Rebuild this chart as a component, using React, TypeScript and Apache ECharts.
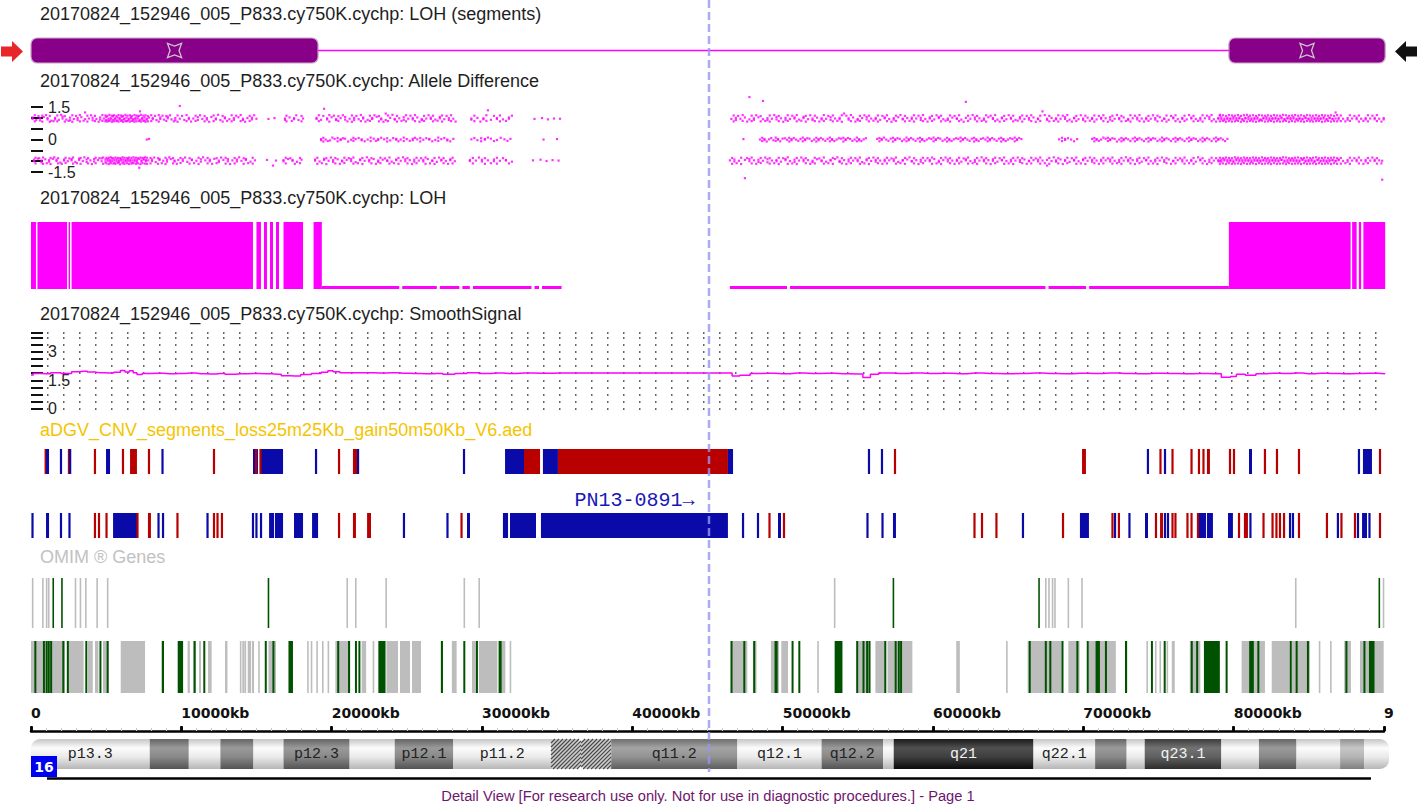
import React, { useEffect, useRef } from "react";
import * as echarts from "echarts";

// ---------- data ----------
const CHROM_MB = 90.354;
const RULER_MAX_MB = 90;
const CURSOR_MB = 45.11;
const SAMPLE = "20170824_152946_005_P833.cy750K.cychp";
const TRACK_TITLES = [
  `${SAMPLE}: LOH (segments)`,
  `${SAMPLE}: Allele Difference`,
  `${SAMPLE}: LOH`,
  `${SAMPLE}: SmoothSignal`,
  "aDGV_CNV_segments_loss25m25Kb_gain50m50Kb_V6.aed",
  "OMIM \u00ae Genes",
];
const FOOTER = "Detail View [For research use only. Not for use in diagnostic procedures.] - Page 1";
const CHROM_NAME = "16";

// LOH segments (Mb)
const LOH_SEGMENTS = [[0, 19.1], [79.7, 90.1]];

// Allele difference: [position Mb, value, value...]
const AD_UPPER_LEFT = [
  [0.1,0.95,1.02],[0.35,0.9],[0.6,0.98,0.88],[0.85,1.04],[1.1,0.93,0.99],[1.35,0.87],[1.6,1.0,0.94],[1.85,0.91],[2.1,0.97,1.06],[2.35,0.92],[2.6,1.01,0.89],[2.85,0.95],[3.1,0.9,0.99],[3.35,1.03],[3.6,0.94,1.25],[3.85,0.97],[4.1,0.89,1.0],[4.35,0.95],[4.6,1.02,0.92],[4.85,0.97],
  [5.0,0.9,1.04],[5.15,0.96,0.87],[5.3,1.0,0.93],[5.45,0.91,1.07],[5.6,0.98,0.94],[5.75,0.88,1.02],[5.9,0.95,0.99],[6.05,1.05,0.9],[6.2,0.93,0.97],[6.35,1.01,0.86],[6.5,0.96,0.92],[6.65,1.03,0.98],[6.8,0.89,0.95],[6.95,1.0,0.93],[7.1,0.97,1.06],[7.25,0.91,1.3],[7.4,0.99,0.94],[7.55,0.88,1.02],[7.7,0.96,0.92],[7.85,1.01],
  [8.1,0.94,0.99],[8.35,0.9],[8.6,1.02,0.95],[8.85,0.92],[9.1,0.98,1.05],[9.35,0.93],[9.6,0.89,0.99],[9.9,1.55,0.96],[10.2,0.91],[10.5,1.0,0.94],[10.8,0.97],[11.1,0.9,1.03],[11.4,0.95],[11.7,0.99,0.92],[12.0,1.04],[12.3,0.93,0.97],[12.6,0.9],[12.9,0.98,1.02],[13.2,0.94],[13.5,0.91,0.99],[13.8,1.03],[14.1,0.96,0.9],[14.4,0.99],[14.7,0.93,1.01],[15.0,0.96],
  [15.8,0.95],[16.2,0.99],
  [16.9,0.97,0.91],[17.2,1.02],[17.5,0.94,0.99],[17.8,0.9],[18.1,0.97],
  [19.0,0.95,1.0],[19.3,0.91],[19.5,1.42],[19.7,0.98,0.93],[20.0,1.03],[20.3,0.94,0.9],[20.6,0.99],[20.9,0.92,1.04],[21.2,0.96],[21.5,1.0,0.9],[21.8,0.94],[22.1,0.97,1.02],[22.4,0.91],[22.7,0.99,0.95],[23.0,1.05],[23.3,0.93,0.97],[23.6,0.9,1.2],[23.9,1.0],[24.2,0.95,0.92],[24.5,0.98],[24.8,0.91,1.03],[25.1,0.96],[25.4,0.99,0.93],[25.7,1.02],[26.0,0.94,0.9],[26.3,0.97],[26.6,1.01,0.95],[26.9,0.92],[27.2,0.98,1.04],[27.5,0.94],[27.8,0.9,0.99],[28.1,0.96],
  [29.3,0.97,0.92],[29.7,1.0],[30.1,0.94,0.98],[30.4,1.35],[30.6,0.91],[31.0,0.99,0.95],[31.4,0.93],[31.8,1.02,0.96],
  [33.5,0.95],[34.0,0.99],[34.4,0.93],[34.8,0.97],[35.2,0.96],
];
const AD_UPPER_LEFT_2 = [
  [0.25,0.84,1.12],[0.5,1.08],[0.75,0.83,1.1],[1.0,1.13],[1.25,0.82,1.09],[1.5,0.85],[1.75,1.11,0.84],[2.0,1.14],[2.25,0.83,1.08],[2.5,0.86],[2.75,1.12,0.82],[3.0,1.09],[3.25,0.84,1.13],[3.5,0.87],[3.75,1.1,0.83],[4.0,1.12],[4.25,0.85,1.09],[4.5,0.82],[4.75,1.13,0.86],
  [4.95,0.84,1.11],[5.08,1.09,0.83],[5.22,0.86,1.14],[5.38,1.1,0.82],[5.52,0.84,1.12],[5.68,1.08,0.85],[5.82,0.83,1.13],[5.98,1.11,0.86],[6.12,0.82,1.09],[6.28,1.14,0.84],[6.42,0.85,1.1],[6.58,1.12,0.83],[6.72,0.86,1.08],[6.88,1.13,0.82],[7.02,0.84,1.11],[7.18,1.09,0.85],[7.32,0.83,1.14],[7.48,1.1,0.86],[7.62,0.82,1.12],[7.78,1.08,0.84],
  [8.0,0.85,1.12],[8.25,1.09],[8.5,0.83,1.13],[8.75,1.1],[9.0,0.86,1.08],[9.25,1.12],[9.5,0.84],[9.75,1.11,0.82],[10.05,1.09],[10.35,0.85,1.13],[10.65,0.83],[10.95,1.1,0.86],[11.25,1.12],[11.55,0.84,1.08],[11.85,0.82],[12.15,1.11,0.85],[12.45,1.14],[12.75,0.83,1.09],[13.05,0.86],[13.35,1.12,0.84],[13.65,1.1],[13.95,0.85,1.13],[14.25,0.82],[14.55,1.09,0.86],[14.85,1.12],
  [17.0,1.1,0.84],[17.35,0.86],[17.65,1.12],[18.0,0.84,1.09],
  [19.15,0.85,1.12],[19.45,1.09],[19.85,0.83,1.13],[20.15,1.1],[20.45,0.86,1.08],[20.75,1.12],[21.05,0.84],[21.35,1.11,0.82],[21.65,1.09],[21.95,0.85,1.13],[22.25,0.83],[22.55,1.1,0.86],[22.85,1.12],[23.15,0.84,1.08],[23.45,0.82],[23.75,1.11,0.85],[24.05,1.14],[24.35,0.83,1.09],[24.65,0.86],[24.95,1.12,0.84],[25.25,1.1],[25.55,0.85,1.13],[25.85,0.82],[26.15,1.09,0.86],[26.45,1.12],[26.75,0.84,1.1],[27.05,0.87],[27.35,1.11,0.83],[27.65,1.09],[27.95,0.85,1.12],[28.25,0.83],
  [29.5,1.1,0.85],[29.9,0.83],[30.3,1.12,0.86],[30.8,1.09],[31.2,0.84,1.11],[31.6,0.86],[32.0,1.1],
];
const AD_LOWER_LEFT = [
  [0.2,-0.93,-1.0],[0.45,-0.88],[0.7,-0.97,-1.05],[0.95,-0.91],[1.2,-1.02,-0.95],[1.45,-0.89],[1.7,-0.99,-0.93],[1.95,-1.06],[2.2,-0.92,-0.97],[2.45,-1.0],[2.7,-0.9,-0.96],[2.95,-1.03],[3.2,-0.94,-0.88],[3.45,-0.99],[3.7,-1.04,-0.92],[3.95,-0.96],[4.2,-0.9,-1.01],[4.45,-0.95],[4.7,-1.0,-0.87],
  [4.95,-0.93,-1.05],[5.1,-0.98,-0.9],[5.25,-1.02,-0.95],[5.4,-0.88,-0.99],[5.55,-0.94,-1.06],[5.7,-1.0,-0.91],[5.85,-0.96,-1.03],[6.0,-0.9,-0.97],[6.15,-1.04,-0.93],[6.3,-0.95,-1.0],[6.45,-0.89,-0.98],[6.6,-1.01,-0.94],[6.75,-0.96,-1.07],[6.9,-0.92,-0.99],[7.05,-1.03,-0.95],[7.2,-0.9,-1.3],[7.35,-0.97,-1.01],[7.5,-0.93,-0.88],[7.65,-1.0,-0.95],[7.8,-0.96],
  [8.05,-0.99,-0.92],[8.3,-1.04],[8.55,-0.94,-0.9],[8.8,-0.98],[9.05,-1.02,-0.93],[9.3,-0.9],[9.55,-0.97,-1.01],[9.8,-0.94],[10.1,-0.99,-0.91],[10.4,-1.03],[10.7,-0.95,-0.92],[11.0,-0.98],[11.3,-0.91,-1.02],[11.6,-0.96],[11.9,-1.0,-0.93],[12.2,-0.89],[12.5,-0.97,-1.04],[12.8,-0.94],[13.1,-1.0,-0.9],[13.4,-0.96],[13.7,-0.92,-1.01],[14.0,-0.98],[14.3,-0.94,-0.9],[14.6,-1.02],[14.9,-0.96],
  [15.7,-0.94],[16.1,-1.2],[16.3,-0.97],
  [16.8,-0.95,-1.0],[17.1,-0.9],[17.4,-0.98,-0.94],[17.7,-1.03],[18.0,-0.93],
  [18.9,-0.97,-0.92],[19.2,-1.01],[19.5,-0.94,-0.89],[19.8,-0.98],[20.1,-1.03,-0.95],[20.4,-0.91],[20.7,-0.97,-1.01],[21.0,-0.94],[21.3,-0.9,-0.99],[21.6,-1.04],[21.9,-0.95,-0.92],[22.2,-0.98],[22.5,-1.01,-0.94],[22.8,-0.9],[23.1,-0.97,-1.03],[23.4,-0.93],[23.7,-0.99,-0.96],[24.0,-1.02],[24.3,-0.92,-0.95],[24.6,-0.98],[24.9,-1.0,-0.91],[25.2,-0.95],[25.5,-0.93,-1.02],[25.8,-0.97],[26.1,-1.01,-0.94],[26.4,-0.9],[26.7,-0.96,-0.99],[27.0,-1.03],[27.3,-0.93,-0.97],[27.6,-0.99],[27.9,-0.95,-0.91],[28.2,-1.0],
  [29.2,-0.94,-0.99],[29.6,-0.97],[30.0,-1.01,-0.93],[30.4,-0.96],[30.8,-0.92,-1.0],[31.2,-0.98],[31.6,-0.94,-0.97],[32.0,-1.02],
  [33.4,-0.96],[33.9,-0.93],[34.3,-0.99],[34.7,-0.95],[35.1,-0.97],
];
const AD_LOWER_LEFT_2 = [
  [0.3,-1.1,-0.84],[0.55,-0.86],[0.8,-1.12,-0.83],[1.05,-1.09],[1.3,-0.85,-1.13],[1.55,-0.82],[1.8,-1.1,-0.86],[2.05,-1.12],[2.3,-0.84,-1.08],[2.55,-0.87],[2.8,-1.11,-0.83],[3.05,-1.09],[3.3,-0.85,-1.12],[3.55,-0.82],[3.8,-1.1,-0.86],[4.05,-1.13],[4.3,-0.84,-1.09],[4.55,-0.86],[4.8,-1.12,-0.83],
  [5.02,-0.85,-1.1],[5.18,-1.13,-0.84],[5.32,-0.82,-1.09],[5.48,-1.11,-0.86],[5.62,-0.83,-1.12],[5.78,-1.08,-0.85],[5.92,-0.86,-1.14],[6.08,-1.1,-0.82],[6.22,-0.84,-1.12],[6.38,-1.09,-0.86],[6.52,-0.83,-1.13],[6.68,-1.11,-0.85],[6.82,-0.82,-1.09],[6.98,-1.12,-0.84],[7.12,-0.86,-1.1],[7.28,-1.13,-0.83],[7.42,-0.85,-1.09],[7.58,-1.11,-0.82],[7.72,-0.84,-1.12],
  [7.95,-1.1,-0.85],[8.2,-0.83],[8.45,-1.12,-0.86],[8.7,-1.09],[8.95,-0.84,-1.13],[9.2,-0.82],[9.45,-1.1,-0.86],[9.7,-1.12],[9.95,-0.85,-1.08],[10.25,-0.83],[10.55,-1.11,-0.86],[10.85,-1.09],[11.15,-0.84,-1.13],[11.45,-0.82],[11.75,-1.1,-0.85],[12.05,-1.12],[12.35,-0.86,-1.09],[12.65,-0.83],[12.95,-1.11,-0.84],[13.25,-1.13],[13.55,-0.85,-1.1],[13.85,-0.82],[14.15,-1.12,-0.86],[14.45,-1.09],[14.75,-0.84,-1.11],
  [16.95,-1.1,-0.84],[17.25,-0.86],[17.55,-1.12],[17.9,-0.85,-1.09],
  [19.05,-0.84,-1.12],[19.35,-1.09],[19.65,-0.86,-1.13],[19.95,-0.83],[20.25,-1.1,-0.85],[20.55,-1.12],[20.85,-0.84,-1.08],[21.15,-0.86],[21.45,-1.11,-0.83],[21.75,-1.09],[22.05,-0.85,-1.13],[22.35,-0.82],[22.65,-1.1,-0.86],[22.95,-1.12],[23.25,-0.84,-1.09],[23.55,-0.87],[23.85,-1.11,-0.83],[24.15,-1.09],[24.45,-0.85,-1.12],[24.75,-0.82],[25.05,-1.1,-0.86],[25.35,-1.13],[25.65,-0.84,-1.09],[25.95,-0.86],[26.25,-1.12,-0.83],[26.55,-1.1],[26.85,-0.85,-1.13],[27.15,-0.83],[27.45,-1.09,-0.86],[27.75,-1.12],[28.05,-0.84,-1.1],
  [29.4,-1.1,-0.85],[29.8,-0.83],[30.2,-1.12,-0.86],[30.6,-1.09],[31.0,-0.84,-1.11],[31.4,-0.86],[31.8,-1.1],
];
const AD_MID_LEFT = [
  [7.7,0.0],[7.85,0.03],[19.3,0.02,-0.03],[19.6,0.0],[19.9,-0.04],[20.2,0.03],[20.6,0.01,-0.02],[20.9,0.04],[21.3,-0.01],[21.6,0.02],[22.0,-0.03,0.01],[22.4,0.0],[22.8,0.04],[23.1,-0.02,0.02],[23.5,0.01],[23.9,-0.04],[24.3,0.03,-0.01],[24.6,0.0],[25.0,0.02],[25.4,-0.03,0.04],[25.7,0.01],[26.1,-0.01],[26.5,0.03,0.0],[26.9,-0.02],[27.3,0.02],[27.7,0.0,-0.04],[28.1,0.03],[29.3,0.01],[29.7,-0.03],[30.2,0.02,0.0],[30.6,0.04],[31.0,-0.02],[31.5,0.01],[31.9,0.03],[34.1,0.0],[35.0,0.02],
  [19.45,0.08,-0.09],[19.75,-0.07],[20.05,0.09],[20.4,-0.08,0.07],[20.75,0.06],[21.1,-0.09],[21.45,0.08,-0.06],[21.8,0.07],[22.2,-0.08],[22.6,0.09,-0.07],[22.95,-0.06],[23.3,0.08],[23.7,-0.09,0.06],[24.1,0.07],[24.45,-0.08],[24.8,0.09,-0.07],[25.2,-0.06],[25.55,0.08],[25.9,-0.09,0.07],[26.3,0.06],[26.7,-0.08],[27.1,0.09,-0.06],[27.5,0.07],[27.9,-0.08],[29.5,0.07],[29.95,-0.08,0.06],[30.4,0.09],[30.8,-0.07],[31.25,0.08],[31.7,-0.06],
];
const AD_UPPER_RIGHT = [
  [46.6,0.95],[46.9,1.0,0.9],[47.2,0.96],[47.5,1.02],[47.8,0.93,1.96],[48.1,0.98,0.91],[48.4,1.03],[48.7,0.94,1.78],[49.0,0.99,0.9],[49.3,0.96],[49.6,1.04,0.93],[49.9,0.98],[50.2,0.91,1.0],[50.5,0.95],[50.8,1.02,0.97],[51.1,0.92],[51.4,0.99,1.05],[51.7,0.94],[52.0,0.97,0.9],[52.3,1.01],[52.6,0.93,0.98],[52.9,0.96],[53.2,1.03,0.91],[53.5,0.97],[53.8,0.94,1.0],[54.1,1.2],[54.4,0.92,0.98],[54.7,1.02],[55.0,0.95,0.9],[55.3,0.99],[55.6,0.93,1.04],[55.9,0.97],[56.2,1.0,0.94],[56.5,0.91],[56.8,0.98,1.02],[57.1,0.95],[57.4,0.92,0.99],[57.7,1.03],[58.0,0.96,0.93],[58.3,0.99],[58.6,0.94,1.01],[58.9,0.97],[59.2,0.9,1.0],[59.5,0.95],[59.8,1.02,0.97],[60.1,0.93],[60.4,0.99,1.04],[60.7,0.94],[61.0,0.97,0.91],[61.3,1.01],[61.6,0.95,0.98],[61.9,0.92],[62.2,1.0,1.74],[62.5,0.96],[62.8,0.93,1.02],[63.1,0.98],[63.4,0.91,0.97],[63.7,1.03],[64.0,0.95,0.99],[64.3,0.92],[64.6,0.98,1.01],[64.9,0.94],[65.2,1.0,0.96],[65.5,0.91],[65.8,0.97,1.03],[66.1,0.95],[66.4,0.99,0.92],[66.7,1.02],[67.0,0.94,0.97],[67.3,1.3],[67.6,0.96,0.91],[67.9,1.0],[68.2,0.93,0.98],[68.5,0.96],[68.8,1.03,0.95],[69.1,0.92],[69.4,0.98,1.0],[69.7,0.94],[70.0,0.97,0.91],[70.3,1.01],[70.6,0.95,0.99],[70.9,0.93],[71.2,1.0,0.96],[71.5,0.98],[71.8,0.92,1.03],[72.1,0.96],[72.4,0.99,0.94],[72.7,1.02],[73.0,0.95,0.9],[73.3,0.98],[73.6,0.93,1.01],[73.9,0.97],[74.2,1.0,0.94],[74.5,0.96],[74.8,0.92,0.99],[75.1,1.03],[75.4,0.95,0.97],[75.7,0.91],[76.0,0.98,1.02],[76.3,0.94],[76.6,0.99,0.96],[76.9,0.93],[77.2,1.01,0.97],[77.5,0.95],[77.8,0.92,1.0],[78.1,0.98],[78.4,0.95,1.04],[78.7,0.93],[79.0,0.99,0.96],
  [79.2,0.94,1.02],[79.4,0.97,0.9],[79.6,1.0,0.95],[79.8,0.93,0.98],[80.0,1.03,0.96],[80.2,0.91,0.99],[80.4,0.97,1.01],[80.6,0.94,0.92],[80.8,1.0,0.97],[81.0,0.95,1.04],[81.2,0.92,0.98],[81.4,0.99,0.94],[81.6,1.02,0.96],[81.8,0.93,0.9],[82.0,0.97,1.0],[82.2,0.95,1.03],[82.4,0.91,0.98],[82.6,0.99,0.94],[82.8,1.01,0.96],[83.0,0.93,0.97],[83.2,0.98,1.02],[83.4,0.95,0.91],[83.6,1.0,0.97],[83.8,0.94,0.99],[84.0,0.97,1.03],[84.2,0.92,0.96],[84.4,1.0,0.95],[84.6,0.96,0.93],[84.8,0.99,1.02],[85.0,0.94,0.97],[85.2,1.01,0.91],[85.4,0.96,0.98],[85.6,0.93,1.0],[85.8,0.98,0.95],[86.0,1.03,0.97],[86.2,0.95,0.92],[86.4,0.99,1.01],[86.6,0.94,0.96],[86.8,0.97,1.25],[87.0,1.0,0.93],
  [87.3,0.96],[87.6,0.92,0.99],[87.9,0.97],[88.2,1.01,0.94],[88.5,0.96],[88.8,0.93,0.99],[89.1,0.97],[89.4,1.0,0.94],[89.7,0.96],[90.0,0.93,0.99],
];
const AD_UPPER_RIGHT_2 = [
  [46.75,0.84,1.11],[47.05,1.09],[47.35,0.86,1.13],[47.65,0.83],[47.95,1.1,0.85],[48.25,1.12],[48.55,0.84,1.08],[48.85,0.86],[49.15,1.11,0.83],[49.45,1.13],[49.75,0.85,1.09],[50.05,0.82],[50.35,1.12,0.86],[50.65,1.1],[50.95,0.84,1.13],[51.25,0.87],[51.55,1.09,0.83],[51.85,1.12],[52.15,0.85,1.1],[52.45,0.83],[52.75,1.13,0.86],[53.05,1.09],[53.35,0.84,1.11],[53.65,0.86],[53.95,1.12,0.82],[54.25,1.1],[54.55,0.85,1.13],[54.85,0.83],[55.15,1.09,0.86],[55.45,1.12],[55.75,0.84,1.1],[56.05,0.87],[56.35,1.11,0.83],[56.65,1.09],[56.95,0.85,1.12],[57.25,0.82],[57.55,1.1,0.86],[57.85,1.13],[58.15,0.84,1.09],[58.45,0.86],[58.75,1.12,0.83],[59.05,1.1],[59.35,0.85,1.13],[59.65,0.83],[59.95,1.09,0.86],[60.25,1.12],[60.55,0.84,1.1],[60.85,0.87],[61.15,1.11,0.83],[61.45,1.09],[61.75,0.85,1.12],[62.05,0.82],[62.35,1.1,0.86],[62.65,1.13],[62.95,0.84,1.09],[63.25,0.86],[63.55,1.12,0.83],[63.85,1.1],[64.15,0.85,1.13],[64.45,0.83],[64.75,1.09,0.86],[65.05,1.12],[65.35,0.84,1.1],[65.65,0.87],[65.95,1.11,0.83],[66.25,1.09],[66.55,0.85,1.12],[66.85,0.82],[67.15,1.1,0.86],[67.45,1.13],[67.75,0.84,1.09],[68.05,0.86],[68.35,1.12,0.83],[68.65,1.1],[68.95,0.85,1.13],[69.25,0.83],[69.55,1.09,0.86],[69.85,1.12],[70.15,0.84,1.1],[70.45,0.87],[70.75,1.11,0.83],[71.05,1.09],[71.35,0.85,1.12],[71.65,0.82],[71.95,1.1,0.86],[72.25,1.13],[72.55,0.84,1.09],[72.85,0.86],[73.15,1.12,0.83],[73.45,1.1],[73.75,0.85,1.13],[74.05,0.83],[74.35,1.09,0.86],[74.65,1.12],[74.95,0.84,1.1],[75.25,0.87],[75.55,1.11,0.83],[75.85,1.09],[76.15,0.85,1.12],[76.45,0.82],[76.75,1.1,0.86],[77.05,1.13],[77.35,0.84,1.09],[77.65,0.86],[77.95,1.12,0.83],[78.25,1.1],[78.55,0.85,1.13],[78.85,0.83],
  [79.1,1.1,0.84,1.14],[79.3,0.86,1.12],[79.5,1.09,0.82],[79.7,0.85,1.13],[79.9,1.11,0.83],[80.1,0.84,1.1],[80.3,1.13,0.86],[80.5,0.82,1.09],[80.7,1.12,0.85],[80.9,0.83,1.14],[81.1,1.1,0.86],[81.3,0.84,1.12],[81.5,1.09,0.82],[81.7,0.85,1.13],[81.9,1.11,0.87],[82.1,0.83,1.1],[82.3,1.12,0.84],[82.5,0.86,1.09],[82.7,1.13,0.82],[82.9,0.85,1.11],[83.1,1.1,0.83],[83.3,0.84,1.14],[83.5,1.12,0.86],[83.7,0.82,1.09],[83.9,1.11,0.85],[84.1,0.83,1.13],[84.3,1.1,0.87],[84.5,0.84,1.12],[84.7,1.09,0.82],[84.9,0.86,1.13],[85.1,1.11,0.84],[85.3,0.83,1.1],[85.5,1.12,0.85],[85.7,0.86,1.09],[85.9,1.13,0.82],[86.1,0.84,1.11],[86.3,1.1,0.86],[86.5,0.83,1.12],[86.7,1.09,0.85],[86.9,0.84,1.13],
  [87.15,1.11,0.85],[87.45,0.84],[87.75,1.12,0.86],[88.05,1.09],[88.35,0.83,1.11],[88.65,0.86],[88.95,1.12,0.84],[89.25,1.1],[89.55,0.85,1.13],[89.85,0.83],
];
const AD_LOWER_RIGHT = [
  [46.5,-0.96],[46.8,-0.92,-1.01],[47.1,-0.98],[47.5,-1.78,-0.94],[47.8,-1.0,-0.9],[48.1,-0.96],[48.4,-1.03,-0.93],[48.7,-0.98],[49.0,-0.91,-1.05],[49.3,-0.97],[49.6,-0.94,-1.0],[49.9,-1.02],[50.2,-0.95,-0.9],[50.5,-0.99],[50.8,-0.93,-1.03],[51.1,-0.97],[51.4,-1.0,-0.92],[51.7,-0.95],[52.0,-0.98,-1.04],[52.3,-0.91],[52.6,-0.96,-1.0],[52.9,-1.02],[53.2,-0.94,-0.97],[53.5,-0.9],[53.8,-0.99,-1.03],[54.1,-0.95],[54.4,-1.01,-0.92],[54.7,-0.97],[55.0,-0.93,-1.0],[55.3,-1.04],[55.6,-0.96,-0.91],[55.9,-0.99],[56.2,-0.94,-1.02],[56.5,-0.97],[56.8,-1.0,-0.93],[57.1,-0.96],[57.4,-0.91,-0.99],[57.7,-1.03],[58.0,-0.95,-0.97],[58.3,-0.92],[58.6,-0.99,-1.01],[58.9,-0.95],[59.2,-1.02,-0.93],[59.5,-0.97],[59.8,-0.94,-1.0],[60.1,-0.9],[60.4,-0.98,-1.04],[60.7,-0.95],[61.0,-1.01,-0.92],[61.3,-0.97],[61.6,-0.93,-0.99],[61.9,-1.02],[62.2,-0.96,-0.91],[62.5,-0.99],[62.8,-0.94,-1.03],[63.1,-0.97],[63.4,-1.0,-0.93],[63.7,-0.95],[64.0,-0.91,-0.98],[64.3,-1.02],[64.6,-0.96,-0.94],[64.9,-0.99],[65.2,-0.93,-1.01],[65.5,-0.97],[65.8,-1.03,-0.95],[66.1,-0.92],[66.4,-0.98,-1.0],[66.7,-0.95],[67.0,-1.01,-0.93],[67.3,-0.97],[67.6,-0.94,-1.2],[67.9,-0.99],[68.2,-0.96,-1.02],[68.5,-0.92],[68.8,-0.98,-0.95],[69.1,-1.03],[69.4,-0.94,-0.97],[69.7,-1.0],[70.0,-0.95,-0.91],[70.3,-0.98],[70.6,-1.02,-0.94],[70.9,-0.97],[71.2,-0.93,-1.0],[71.5,-0.96],[71.8,-1.01,-0.92],[72.1,-0.98],[72.4,-0.94,-1.03],[72.7,-0.97],[73.0,-1.0,-0.93],[73.3,-0.95],[73.6,-0.91,-0.99],[73.9,-1.02],[74.2,-0.96,-0.94],[74.5,-0.99],[74.8,-0.93,-1.01],[75.1,-0.97],[75.4,-1.03,-0.95],[75.7,-0.92],[76.0,-0.98,-1.0],[76.3,-0.95],[76.6,-1.01,-0.93],[76.9,-0.97],[77.2,-0.94,-0.99],[77.5,-1.02],[77.8,-0.96,-0.92],[78.1,-0.99],[78.4,-0.93,-1.03],[78.7,-0.97],[79.0,-1.0,-0.95],
  [79.2,-0.93,-1.01],[79.4,-0.97,-0.91],[79.6,-1.02,-0.95],[79.8,-0.94,-0.99],[80.0,-0.97,-1.04],[80.2,-0.91,-0.96],[80.4,-1.0,-0.93],[80.6,-0.95,-1.02],[80.8,-0.98,-0.92],[81.0,-0.94,-1.0],[81.2,-1.03,-0.96],[81.4,-0.92,-0.98],[81.6,-0.99,-0.94],[81.8,-0.96,-1.01],[82.0,-0.93,-0.97],[82.2,-1.0,-0.91],[82.4,-0.95,-1.03],[82.6,-0.98,-0.94],[82.8,-0.92,-0.99],[83.0,-1.01,-0.96],[83.2,-0.94,-0.93],[83.4,-0.97,-1.02],[83.6,-1.03,-0.95],[83.8,-0.93,-0.98],[84.0,-0.99,-0.92],[84.2,-0.95,-1.0],[84.4,-1.02,-0.97],[84.6,-0.94,-0.91],[84.8,-0.97,-1.01],[85.0,-1.0,-0.95],[85.2,-0.92,-0.98],[85.4,-0.98,-1.03],[85.6,-0.95,-0.93],[85.8,-1.01,-0.97],[86.0,-0.93,-0.99],[86.2,-0.97,-1.02],[86.4,-1.0,-0.94],[86.6,-0.94,-0.96],[86.8,-0.98,-1.0],[87.0,-0.95,-0.92],
  [87.3,-0.99],[87.6,-0.94,-1.02],[87.9,-0.97],[88.2,-0.93,-1.0],[88.5,-0.96],[88.8,-1.01,-0.94],[89.1,-0.97],[89.4,-0.93,-0.99],[89.7,-0.96],[89.9,-1.85,-0.98],
];
const AD_LOWER_RIGHT_2 = [
  [46.65,-0.85,-1.12],[46.95,-1.09],[47.25,-0.84,-1.13],[47.65,-0.86],[47.95,-1.1,-0.83],[48.25,-1.12],[48.55,-0.85,-1.08],[48.85,-0.83],[49.15,-1.11,-0.86],[49.45,-1.09],[49.75,-0.84,-1.13],[50.05,-0.86],[50.35,-1.12,-0.82],[50.65,-1.1],[50.95,-0.85,-1.13],[51.25,-0.83],[51.55,-1.09,-0.86],[51.85,-1.12],[52.15,-0.84,-1.1],[52.45,-0.87],[52.75,-1.11,-0.83],[53.05,-1.09],[53.35,-0.85,-1.12],[53.65,-0.82],[53.95,-1.1,-0.86],[54.25,-1.13],[54.55,-0.84,-1.09],[54.85,-0.86],[55.15,-1.12,-0.83],[55.45,-1.1],[55.75,-0.85,-1.13],[56.05,-0.83],[56.35,-1.09,-0.86],[56.65,-1.12],[56.95,-0.84,-1.1],[57.25,-0.87],[57.55,-1.11,-0.83],[57.85,-1.09],[58.15,-0.85,-1.12],[58.45,-0.82],[58.75,-1.1,-0.86],[59.05,-1.13],[59.35,-0.84,-1.09],[59.65,-0.86],[59.95,-1.12,-0.83],[60.25,-1.1],[60.55,-0.85,-1.13],[60.85,-0.83],[61.15,-1.09,-0.86],[61.45,-1.12],[61.75,-0.84,-1.1],[62.05,-0.87],[62.35,-1.11,-0.83],[62.65,-1.09],[62.95,-0.85,-1.12],[63.25,-0.82],[63.55,-1.1,-0.86],[63.85,-1.13],[64.15,-0.84,-1.09],[64.45,-0.86],[64.75,-1.12,-0.83],[65.05,-1.1],[65.35,-0.85,-1.13],[65.65,-0.83],[65.95,-1.09,-0.86],[66.25,-1.12],[66.55,-0.84,-1.1],[66.85,-0.87],[67.15,-1.11,-0.83],[67.45,-1.09],[67.75,-0.85,-1.12],[68.05,-0.82],[68.35,-1.1,-0.86],[68.65,-1.13],[68.95,-0.84,-1.09],[69.25,-0.86],[69.55,-1.12,-0.83],[69.85,-1.1],[70.15,-0.85,-1.13],[70.45,-0.83],[70.75,-1.09,-0.86],[71.05,-1.12],[71.35,-0.84,-1.1],[71.65,-0.87],[71.95,-1.11,-0.83],[72.25,-1.09],[72.55,-0.85,-1.12],[72.85,-0.82],[73.15,-1.1,-0.86],[73.45,-1.13],[73.75,-0.84,-1.09],[74.05,-0.86],[74.35,-1.12,-0.83],[74.65,-1.1],[74.95,-0.85,-1.13],[75.25,-0.83],[75.55,-1.09,-0.86],[75.85,-1.12],[76.15,-0.84,-1.1],[76.45,-0.87],[76.75,-1.11,-0.83],[77.05,-1.09],[77.35,-0.85,-1.12],[77.65,-0.82],[77.95,-1.1,-0.86],[78.25,-1.13],[78.55,-0.84,-1.09],[78.85,-0.86],
  [79.1,-0.84,-1.12,-1.0],[79.3,-1.1,-0.86],[79.5,-0.83,-1.13],[79.7,-1.09,-0.85],[79.9,-0.86,-1.12],[80.1,-1.11,-0.82],[80.3,-0.84,-1.1],[80.5,-1.13,-0.86],[80.7,-0.83,-1.09],[80.9,-1.12,-0.85],[81.1,-0.86,-1.11],[81.3,-1.1,-0.83],[81.5,-0.84,-1.13],[81.7,-1.09,-0.86],[81.9,-0.82,-1.12],[82.1,-1.11,-0.85],[82.3,-0.86,-1.1],[82.5,-1.13,-0.83],[82.7,-0.84,-1.09],[82.9,-1.12,-0.86],[83.1,-0.85,-1.11],[83.3,-1.1,-0.82],[83.5,-0.83,-1.13],[83.7,-1.09,-0.86],[83.9,-0.86,-1.12],[84.1,-1.11,-0.84],[84.3,-0.83,-1.1],[84.5,-1.13,-0.86],[84.7,-0.85,-1.09],[84.9,-1.12,-0.83],[85.1,-0.86,-1.11],[85.3,-1.1,-0.84],[85.5,-0.82,-1.13],[85.7,-1.09,-0.86],[85.9,-0.85,-1.12],[86.1,-1.11,-0.83],[86.3,-0.86,-1.1],[86.5,-1.13,-0.84],[86.7,-0.83,-1.09],[86.9,-1.12,-0.86],
  [87.15,-0.85,-1.11],[87.45,-1.09],[87.75,-0.84,-1.12],[88.05,-0.86],[88.35,-1.1,-0.83],[88.65,-1.12],[88.95,-0.85,-1.09],[89.25,-0.83],[89.55,-1.11,-0.86],[89.85,-1.1],
];
const AD_MID_RIGHT = [
  [47.4,0.02],[48.5,0.0],[48.8,0.03,-0.02],[49.1,0.01],[49.4,-0.03],[49.7,0.02,0.0],[50.0,0.04],[50.3,-0.01],[50.6,0.02,-0.03],[50.9,0.0],[51.2,0.03],[51.5,-0.02,0.01],[51.8,0.04],[52.1,0.0],[52.4,-0.03,0.02],[52.7,0.01],[53.0,0.03],[53.3,-0.01,0.02],[53.6,0.0],[53.9,0.04],[54.2,-0.02,0.01],[54.5,0.03],[54.8,0.0],[55.1,0.02,-0.03],[55.4,0.01],[56.3,0.03],[56.6,-0.01,0.02],[56.9,0.0],[57.2,0.04],[57.5,-0.02,0.01],[57.8,0.03],[58.1,0.0],[58.4,-0.03,0.02],[58.7,0.01],[59.0,0.04],[59.3,-0.01,0.02],[59.6,0.0],[59.9,0.03],[60.2,-0.02,0.01],[60.5,0.04],[60.8,0.0],[61.1,0.02,-0.03],[61.4,0.01],[61.7,0.03],[62.0,-0.01,0.02],[62.3,0.0],[62.6,0.04],[62.9,-0.02,0.01],[63.2,0.03],[63.5,0.0],[63.8,0.02,-0.03],[64.1,0.01],[64.4,0.04],[64.7,-0.01,0.02],[65.0,0.0],[65.3,0.03],[65.6,-0.02,0.01],[65.9,0.02],[68.4,0.01],[68.8,-0.02,0.03],[69.2,0.0],[69.6,0.02],[70.6,0.03],[70.9,-0.01,0.02],[71.2,0.0],[71.5,0.04],[71.8,-0.02,0.01],[72.1,0.03],[72.4,0.0],[72.7,0.02,-0.03],[73.0,0.01],[73.3,0.04],[73.6,-0.01,0.02],[73.9,0.0],[74.2,0.03],[74.5,-0.02,0.01],[74.8,0.04],[75.1,0.0],[75.4,0.02,-0.03],[75.7,0.01],[76.0,0.03],[76.3,-0.01,0.02],[76.6,0.0],[76.9,0.04],[77.2,-0.02,0.01],[77.5,0.03],[77.8,0.0],[78.1,0.02,-0.03],[78.4,0.01],[78.7,0.04],[79.0,-0.01,0.02],[79.3,0.0],[79.6,0.03],
  [48.65,0.08,-0.07],[48.95,-0.09],[49.25,0.07],[49.55,-0.06,0.09],[49.85,-0.08],[50.15,0.06],[50.45,-0.09,0.08],[50.75,0.07],[51.05,-0.06],[51.35,0.09,-0.08],[51.65,0.06],[51.95,-0.07],[52.25,0.08,-0.09],[52.55,0.07],[52.85,-0.06],[53.15,0.09,-0.08],[53.45,-0.07],[53.75,0.06],[54.05,-0.09,0.08],[54.35,0.07],[54.65,-0.06],[54.95,0.09,-0.08],[55.25,-0.07],[55.55,0.06],[56.45,-0.08,0.07],[56.75,0.09],[57.05,-0.06],[57.35,0.08,-0.09],[57.65,0.06],[57.95,-0.07],[58.25,0.09,-0.08],[58.55,0.07],[58.85,-0.06],[59.15,0.08,-0.09],[59.45,-0.07],[59.75,0.06],[60.05,-0.08,0.09],[60.35,0.07],[60.65,-0.06],[60.95,0.08,-0.09],[61.25,-0.07],[61.55,0.06],[61.85,-0.08,0.09],[62.15,0.07],[62.45,-0.06],[62.75,0.08,-0.09],[63.05,-0.07],[63.35,0.06],[63.65,-0.08,0.09],[63.95,0.07],[64.25,-0.06],[64.55,0.08,-0.09],[64.85,-0.07],[65.15,0.06],[65.45,-0.08,0.09],[65.75,0.07],[68.6,-0.07,0.08],[69.0,0.06],[69.4,-0.08],[70.75,0.07,-0.08],[71.05,-0.06],[71.35,0.09],[71.65,-0.07,0.08],[71.95,0.06],[72.25,-0.09],[72.55,0.07,-0.08],[72.85,0.06],[73.15,-0.07],[73.45,0.09,-0.08],[73.75,0.06],[74.05,-0.07],[74.35,0.08,-0.09],[74.65,0.06],[74.95,-0.07],[75.25,0.09,-0.08],[75.55,0.06],[75.85,-0.07],[76.15,0.08,-0.09],[76.45,0.06],[76.75,-0.07],[77.05,0.09,-0.08],[77.35,0.06],[77.65,-0.07],[77.95,0.08,-0.09],[78.25,0.06],[78.55,-0.07],[78.85,0.09,-0.08],[79.15,0.06],[79.45,-0.07],
];
const AD_TICKS = [-1.5, -1, -0.5, 0, 0.5, 1, 1.5];
const AD_LABELS = [-1.5, 0, 1.5];

// LOH calls: [start Mb, end Mb, state(1 = LOH, 0 = none)]
const LOH_CALLS = [
  [0,0.33,1],[0.43,2.4,1],[2.5,2.6,1],[2.7,14.77,1],[15.0,15.3,1],[15.5,15.7,1],[15.9,16.1,1],[16.3,16.5,1],[16.8,18.1,1],[18.8,19.35,1],
  [19.35,24.5,0],[24.7,27.0,0],[27.2,28.5,0],[28.7,29.2,0],[29.4,33.3,0],[33.5,33.8,0],[34.0,35.3,0],
  [46.5,50.3,0],[50.5,67.5,0],[67.7,70.2,0],[70.4,79.7,0],
  [79.7,87.8,1],[87.9,88.2,1],[88.35,88.5,1],[88.65,90.1,1],
];

// Smooth signal (Mb, copy number)
const SMOOTH = [
  [0.0,1.78],[0.3,1.86],[1.0,1.85],[1.6,1.9],[2.4,1.86],[3.0,1.95],[3.5,1.98],[4.0,1.93],[4.6,1.9],[5.2,1.88],[5.8,1.92],[6.1,2.02],[6.4,1.94],[6.7,2.0],[6.9,1.9],[7.2,1.8],[7.6,1.86],[8.4,1.87],[9.2,1.84],[9.9,1.86],[10.6,1.88],[11.3,1.85],[12.0,1.83],[12.6,1.86],[13.2,1.82],[14.0,1.84],[14.8,1.86],[15.6,1.85],[16.4,1.82],[16.9,1.74],[17.6,1.73],[18.3,1.8],[19.0,1.86],[19.6,1.92],[19.9,2.0],[20.3,1.95],[20.8,1.9],[21.6,1.9],[22.4,1.9],[23.2,1.88],[24.0,1.9],[24.8,1.87],[25.5,1.86],[26.3,1.84],[27.0,1.86],[27.8,1.82],[28.6,1.86],[29.4,1.9],[30.2,1.86],[31.0,1.88],[31.8,1.86],[32.8,1.88],[34.0,1.87],[35.3,1.88],
  [46.5,1.88],[46.8,1.72],[47.5,1.76],[48.2,1.86],[49.0,1.87],[50.0,1.85],[51.0,1.88],[52.0,1.86],[53.0,1.87],[54.0,1.85],[55.0,1.83],[55.7,1.65],[56.0,1.82],[56.8,1.88],[57.8,1.86],[58.8,1.88],[59.8,1.86],[60.8,1.87],[61.8,1.85],[62.8,1.88],[63.8,1.86],[64.8,1.84],[65.8,1.86],[66.8,1.88],[67.8,1.86],[68.8,1.84],[69.8,1.87],[70.8,1.86],[71.8,1.88],[72.8,1.86],[73.8,1.85],[74.8,1.87],[75.8,1.86],[76.8,1.84],[77.8,1.86],[78.8,1.85],[79.6,1.66],[80.0,1.7],[80.4,1.82],[81.2,1.76],[81.8,1.85],[82.6,1.87],[83.4,1.86],[84.2,1.88],[85.0,1.85],[85.8,1.87],[86.6,1.86],[87.4,1.84],[88.2,1.86],[89.0,1.87],[90.1,1.85],
];
const SS_TICKS = [0, 0.375, 0.75, 1.125, 1.5, 1.875, 2.25, 2.625, 3, 3.375, 3.75, 4];
const SS_LABELS = [0, 1.5, 3];

// DGV CNV segments: [start Mb, end Mb, type(0 = gain, 1 = loss)]
const DGV_ROW1 = [
  [0.95,1.0,1],[1.0,1.2,0],[1.93,2.06,0],[2.5,2.55,1],[2.55,2.66,0],[4.19,4.32,1],[4.99,5.26,0],[6.05,6.19,1],[6.59,7.05,1],[7.78,7.92,1],[8.72,8.78,0],[12.11,12.24,1],[14.77,15.1,0],[14.92,15.02,1],[15.24,16.77,0],[15.24,15.3,1],[18.9,19.03,0],[20.43,20.56,1],[21.42,21.82,1],[21.72,21.8,0],[28.74,28.88,0],
  [31.54,32.8,0],[32.8,33.87,1],[34.06,35.06,0],[35.06,46.37,1],[46.37,46.71,0],[55.69,55.82,0],[56.55,56.69,0],[57.42,57.55,1],
  [69.93,70.19,1],[74.25,74.38,0],[75.12,75.18,1],[75.38,75.52,0],[75.92,75.98,1],[77.18,77.25,1],[77.64,77.78,1],[77.98,78.04,1],[78.24,78.44,1],[79.71,79.84,1],[79.97,80.11,1],[81.04,81.24,0],[82.03,82.17,1],[82.83,82.97,1],[84.3,84.43,1],[88.29,88.42,0],[88.62,89.22,0],[89.69,89.82,1],
];
const DGV_ROW2 = [
  [0.07,0.13,0],[1.0,1.2,0],[1.93,2.06,0],[2.53,2.59,0],[4.19,4.32,1],[4.46,4.59,1],[4.99,5.06,1],[5.46,7.12,0],[7.05,7.12,1],[7.78,7.98,1],[8.45,8.52,0],[8.72,8.85,0],[9.71,9.78,1],[11.71,11.78,0],[12.11,12.24,1],[12.38,12.44,1],[12.64,12.77,1],
  [14.7,14.84,0],[14.97,15.03,0],[15.24,15.37,0],[15.84,16.17,0],[16.23,16.77,0],[17.5,18.1,0],[18.7,19.1,0],[20.43,20.56,1],[21.42,21.62,1],[22.36,22.62,1],[24.75,24.88,0],[27.68,27.74,0],[28.61,28.68,1],[29.01,29.21,0],
  [31.4,31.74,0],[31.87,33.6,0],[33.93,46.37,0],[47.31,47.44,0],[48.3,48.44,0],[49.1,49.17,1],[49.7,49.9,0],[50.03,50.17,1],[55.62,55.69,0],[56.62,56.69,0],[57.35,57.55,0],
  [62.74,62.81,1],[63.21,63.34,1],[64.2,64.27,1],[65.93,66.07,0],[68.6,68.73,1],[69.79,70.39,0],[71.92,71.99,1],[72.06,72.19,0],[72.32,72.45,1],[73.05,73.12,0],[74.12,74.32,0],[74.78,74.92,1],[75.12,75.32,1],[75.38,75.52,0],[75.58,75.72,0],[75.92,75.98,1],[76.11,76.18,1],[76.91,76.98,1],[77.18,77.25,1],[77.58,77.71,1],[77.71,78.18,0],[78.24,78.64,0],
  [79.64,79.97,0],[80.31,80.44,1],[80.7,80.97,1],[81.1,81.17,0],[81.97,82.04,1],[82.57,82.64,1],[82.83,82.9,1],[83.03,83.17,1],[83.3,83.44,1],[83.7,83.84,0],[83.9,84.03,0],[84.3,84.43,1],[86.16,86.29,1],[86.89,87.02,0],[87.16,87.22,1],[88.02,88.16,1],[88.22,88.36,0],[88.56,88.89,0],[89.02,89.09,0],[89.69,89.82,1],
];
const DGV_NAMED = [[33.93, 46.37]];
const DGV_NAMES = ["PN13-0891\u2192"];

// OMIM genes: row 1 [position Mb, type(0 = gene, 1 = phenotype)]
const OMIM_ROW1 = [
  [0.11,0],[0.79,0],[1.04,0],[1.18,0],[1.48,1],[2.06,1],[2.96,0],[3.29,0],[3.65,0],[4.4,0],[5.1,0],[15.8,1],[21.04,0],[21.61,0],[23.63,0],[28.83,0],[29.82,0],
  [53.47,0],[57.38,1],[67.07,1],[67.52,0],[67.73,0],[67.97,0],[68.13,0],[69.02,0],[69.93,0],[84.15,0],[89.71,1],[89.99,0],
];
// OMIM row 2: gene spans and phenotype spans
const OMIM_ROW2_GENES = [
  [0.0,0.94],[0.94,2.26],[2.45,3.5],[3.79,4.11],[4.26,4.49],[4.79,5.16],[5.97,7.59],[10.42,10.57],[11.18,11.31],[11.78,12.02],[12.91,13.07],[13.9,14.0],[14.06,14.2],[14.22,14.3],[14.42,14.64],[14.7,14.84],[15.14,15.2],[15.8,16.3],
  [18.39,18.46],[18.63,18.7],[19.0,19.07],[19.38,19.45],[19.75,19.82],[20.25,21.25],[22.0,22.3],[22.75,22.82],[23.65,24.42],[24.55,25.22],[25.35,25.95],[28.0,28.32],[29.34,29.6],[29.8,31.03],[31.32,31.56],[31.87,31.93],
  [46.55,47.66],[48.03,48.27],[49.23,49.77],[49.92,50.37],[52.33,52.4],[54.97,55.79],[56.18,56.84],[56.99,58.64],[61.56,61.8],[64.9,64.96],[66.31,68.57],[69.02,69.77],[70.37,72.18],
  [74.23,74.3],[74.8,74.87],[75.1,75.17],[75.57,75.64],[75.9,76.1],[77.1,77.8],[80.55,82.1],[82.55,83.76],[83.9,85.1],[85.7,85.77],[86.45,86.52],[87.37,87.82],[88.42,90.0],
];
const OMIM_ROW2_PHENO = [
  [0.29,0.29],[0.86,0.86],[1.04,1.04],[1.18,1.18],[1.34,1.34],[2.15,2.15],[2.45,2.45],[3.68,3.68],[4.62,4.62],[5.1,5.1],[8.7,8.85],[9.76,10.12],[10.81,10.96],[11.53,11.53],[15.62,15.62],[16.13,16.13],[17.13,17.43],[20.44,20.44],[21.16,21.16],[21.62,21.62],[21.85,21.85],[23.11,23.59],[27.27,27.41],[28.83,28.83],[29.67,29.67],[31.11,31.32],
  [46.61,46.61],[47.46,47.46],[48.12,48.12],[49.47,49.68],[50.67,50.67],[51.12,51.12],[53.47,53.99],[54.97,54.97],[55.39,55.39],[55.63,55.63],[55.79,55.79],[56.78,56.9],[57.53,57.53],[57.74,57.74],[57.89,57.89],
  [66.45,66.45],[67.52,67.52],[67.82,67.82],[68.63,68.63],[69.62,69.62],[70.31,70.31],[70.83,71.12],[71.52,71.52],[72.79,72.93],[74.58,74.58],[75.43,75.43],[77.23,77.23],[77.59,77.59],[78.04,79.1],[79.55,79.55],[81.05,81.36],[81.66,81.66],[83.82,83.82],[84.21,84.21],[84.96,84.96],[87.52,87.52],[88.72,88.72],[89.02,89.39],
];

// Chromosome 16 ideogram bands
const BANDS = [
  [0,7.9],[7.9,10.5],[10.5,12.6],[12.6,14.8],[14.8,16.8],[16.8,21.2],[21.2,24.2],[24.2,28.1],[28.1,34.6],[34.6,36.6],[36.6,38.6],[38.6,47.0],[47.0,52.6],
  [52.6,56.7],[56.7,57.4],[57.4,66.7],[66.7,70.8],[70.8,72.9],[72.9,74.1],[74.1,79.2],[79.2,81.7],[81.7,84.2],[84.2,87.1],[87.1,88.7],[88.7,90.354],
];
const BAND_NAMES = ["p13.3","p13.2","p13.13","p13.12","p13.11","p12.3","p12.2","p12.1","p11.2","p11.1","q11.1","q11.2","q12.1","q12.2","q13","q21","q22.1","q22.2","q22.3","q23.1","q23.2","q23.3","q24.1","q24.2","q24.3"];
const BAND_STAINS = ["gneg","gpos50","gneg","gpos50","gneg","gpos50","gneg","gpos50","gneg","acen","acen","gvar","gneg","gpos50","gneg","gpos100","gneg","gpos50","gneg","gpos75","gneg","gpos50","gneg","gpos25","gneg"];

// ---------- styling ----------
const SANS = '"Liberation Sans", Arial, sans-serif';
const MONO = '"Liberation Mono", monospace';
const MAGENTA = "#ff00ff";
const GAIN_BLUE = "#0a0aa8";
const LOSS_RED = "#b80000";
const OMIM_GREY = "#bdbdbd";
const OMIM_GREEN = "#005200";
const STAIN_GRAY: Record<string, number> = { gneg: 230, gpos25: 176, gpos50: 132, gpos75: 92, gpos100: 58, gvar: 142, acen: 205 };

const GRIDS = [
  { top: 38, height: 25 },     // 0 LOH segments
  { top: 96.2, height: 86.7 }, // 1 allele difference
  { top: 222, height: 67 },    // 2 LOH
  { top: 333, height: 75.6 },  // 3 smooth signal
  { top: 449, height: 25 },    // 4 DGV row 1
  { top: 513, height: 25 },    // 5 DGV row 2
  { top: 578, height: 50 },    // 6 OMIM row 1
  { top: 641, height: 52 },    // 7 OMIM row 2
  { top: 727, height: 4, right: 34 }, // 8 ruler
  { top: 739, height: 30 },    // 9 ideogram
];

const toPoints = (rows: number[][]) => rows.flatMap((r) => r.slice(1).map((v) => [r[0], v]));

const gray = (g: number, d: number) => {
  const v = Math.max(0, Math.min(255, Math.round(g + d)));
  return `rgb(${v},${v},${v})`;
};

const spanRenderer = (fillFor: (k: number) => string, minW: number) => (_p: any, api: any) => {
  const a = api.coord([api.value(0), 1]);
  const b = api.coord([api.value(1), 0]);
  let x = a[0];
  let w = b[0] - a[0];
  if (w < minW) {
    x = (a[0] + b[0]) / 2 - minW / 2;
    w = minW;
  }
  return { type: "rect", shape: { x, y: a[1], width: w, height: b[1] - a[1] }, style: { fill: fillFor(api.value(2)) } };
};

const lineRenderer = (fillFor: (k: number) => string, w: number) => (_p: any, api: any) => {
  const a = api.coord([api.value(0), 1]);
  const b = api.coord([api.value(0), 0]);
  return { type: "rect", shape: { x: a[0] - w / 2, y: a[1], width: w, height: b[1] - a[1] }, style: { fill: fillFor(api.value(1)) } };
};

const segRenderer = (_p: any, api: any) => {
  const a = api.coord([api.value(0), 1]);
  const b = api.coord([api.value(1), 0]);
  const cx = (a[0] + b[0]) / 2;
  const cy = (a[1] + b[1]) / 2;
  const pts: number[][] = [];
  for (let i = 0; i < 8; i++) {
    const ang = (Math.PI / 4) * i + Math.PI / 4;
    const rad = i % 2 === 0 ? 10 : 4.5;
    pts.push([cx + rad * Math.cos(ang), cy - rad * Math.sin(ang)]);
  }
  return {
    type: "group",
    children: [
      { type: "rect", shape: { x: a[0], y: a[1], width: b[0] - a[0], height: b[1] - a[1], r: 6 }, style: { fill: "#880088", stroke: "#c9a6c9", lineWidth: 1.2 } },
      { type: "polygon", shape: { points: pts }, style: { fill: "none", stroke: "#c8c8c8", lineWidth: 1.3 } },
    ],
  };
};

const lohRenderer = (_p: any, api: any) => {
  const full = api.value(2) === 1;
  const a = api.coord([api.value(0), 1]);
  const b = api.coord([api.value(1), 0]);
  const h = full ? b[1] - a[1] : 3;
  return { type: "rect", shape: { x: a[0], y: b[1] - h, width: Math.max(1, b[0] - a[0]), height: h }, style: { fill: MAGENTA } };
};

const ideoRenderer = (params: any, api: any) => {
  const i = params.dataIndex;
  const a = api.coord([api.value(0), 1]);
  const b = api.coord([api.value(1), 0]);
  const x0 = a[0], x1 = b[0], y0 = a[1], y1 = b[1];
  const w = x1 - x0, h = y1 - y0;
  const stain = BAND_STAINS[i];
  const g = STAIN_GRAY[stain];
  const children: any[] = [];
  if (stain === "acen") {
    const isP = BAND_NAMES[i].startsWith("p");
    const pts = isP
      ? [[x0, y0], [x1 - 3, y0], [x1, y0 + 4], [x1, y1 - 4], [x1 - 3, y1], [x0, y1]]
      : [[x0, y0 + 4], [x0 + 3, y0], [x1, y0], [x1, y1], [x0 + 3, y1], [x0, y1 - 4]];
    children.push({ type: "polygon", shape: { points: pts }, style: { fill: "#cdcdcd" } });
    for (let k = x0 - h; k < x1; k += 4) {
      const t0 = Math.max(0, (x0 - k) / h);
      const t1 = Math.min(1, (x1 - k) / h);
      if (t1 > t0) {
        children.push({ type: "line", shape: { x1: k + t0 * h, y1: y1 - t0 * h, x2: k + t1 * h, y2: y1 - t1 * h }, style: { stroke: "#4a4a4a", lineWidth: 1.2 } });
      }
    }
  } else {
    const r = i === 0 ? [9, 0, 0, 9] : i === BANDS.length - 1 ? [0, 9, 9, 0] : 0;
    children.push({
      type: "rect",
      shape: { x: x0, y: y0, width: w, height: h, r },
      style: {
        fill: new echarts.graphic.LinearGradient(0, 0, 0, 1, [
          { offset: 0, color: gray(g, -32) },
          { offset: 0.3, color: gray(g, 22) },
          { offset: 0.6, color: gray(g, 4) },
          { offset: 1, color: gray(g, -48) },
        ]),
      },
    });
  }
  const name = BAND_NAMES[i];
  if (w >= name.length * 9 + 12) {
    children.push({
      type: "text",
      style: {
        text: name, x: (x0 + x1) / 2, y: (y0 + y1) / 2, align: "center", verticalAlign: "middle",
        textAlign: "center", textVerticalAlign: "middle", font: `15px ${MONO}`, fill: g < 100 ? "#f2f2f2" : "#222",
      },
    });
  }
  return { type: "group", children };
};

const namedRenderer = (params: any, api: any) => {
  const a = api.coord([api.value(0), 1]);
  const b = api.coord([api.value(1), 1]);
  return {
    type: "text",
    style: {
      text: DGV_NAMES[params.dataIndex], x: (a[0] + b[0]) / 2, y: a[1] - 13, align: "center", verticalAlign: "middle",
      textAlign: "center", textVerticalAlign: "middle", font: `20px ${MONO}`, fill: "#1818b8",
    },
  };
};

function staticGraphics(): any[] {
  const titleY = [14, 81, 198, 314, 430, 557];
  const titleColor = ["#1e1e1e", "#1e1e1e", "#1e1e1e", "#1e1e1e", "#f5c400", "#c2c2c2"];
  const els: any[] = TRACK_TITLES.map((t, i) => ({
    id: `title${i}`, type: "text", z: 50,
    style: { text: t, x: 40, y: titleY[i], fill: titleColor[i], font: `18px ${SANS}`, verticalAlign: "middle", textVerticalAlign: "middle" },
  }));
  els.push({
    id: "arrowL", type: "polygon", z: 50,
    shape: { points: [[1, 46.5], [12, 46.5], [12, 41], [23, 51.5], [12, 62], [12, 56.5], [1, 56.5]] },
    style: { fill: "#e8262a" },
  });
  els.push({
    id: "arrowR", type: "polygon", z: 50,
    shape: { points: [[1417, 46.5], [1406, 46.5], [1406, 41], [1395, 51.5], [1406, 62], [1406, 56.5], [1417, 56.5]] },
    style: { fill: "#111" },
  });
  els.push({ id: "chrBox", type: "rect", z: 60, shape: { x: 31, y: 756, width: 26, height: 21 }, style: { fill: "#0000f0" } });
  els.push({
    id: "chrText", type: "text", z: 61,
    style: { text: CHROM_NAME, x: 44, y: 767, fill: "#fff", font: `bold 14px "DejaVu Sans", sans-serif`, align: "center", verticalAlign: "middle", textAlign: "center", textVerticalAlign: "middle" },
  });
  els.push({ id: "baseLine", type: "line", z: 50, shape: { x1: 47, y1: 778.5, x2: 1371, y2: 778.5 }, style: { stroke: "#000", lineWidth: 2.5 } });
  els.push({
    id: "footer", type: "text", z: 50,
    style: { text: FOOTER, x: 708, y: 796, fill: "#6e166e", font: `14.7px ${SANS}`, align: "center", verticalAlign: "middle", textAlign: "center", textVerticalAlign: "middle" },
  });
  return els;
}

function buildOption(): any {
  const xAxis: any[] = [];
  const yAxis: any[] = [];
  GRIDS.forEach((_g, i) => {
    if (i === 8) return;
    xAxis.push({ type: "value", gridIndex: i, min: 0, max: CHROM_MB, show: false });
  });
  // ruler axes (indices 9, 10)
  xAxis.push({
    type: "value", gridIndex: 8, position: "top", min: 0, max: RULER_MAX_MB, interval: 10,
    axisLine: { show: true, lineStyle: { color: "#000", width: 2.5 } },
    axisTick: { show: true, length: 5, lineStyle: { color: "#000", width: 2.5 } },
    minorTick: { show: true, splitNumber: 10, length: 3, lineStyle: { color: "#c8c8c8", width: 1 } },
    splitLine: { show: false },
    axisLabel: {
      show: true, margin: 7, align: "left", color: "#111", fontWeight: "bold", fontSize: 14, fontFamily: '"DejaVu Sans", sans-serif',
      showMinLabel: true, showMaxLabel: true, hideOverlap: false,
      formatter: (v: number) => (v === 0 ? "0" : v >= RULER_MAX_MB ? "9" : `${Math.round(v * 1000)}kb`),
    },
  });
  xAxis.push({
    type: "value", gridIndex: 8, position: "bottom", min: 0, max: RULER_MAX_MB, interval: 10,
    axisLine: { show: false }, axisLabel: { show: false }, splitLine: { show: false },
    axisTick: { show: true, inside: true, length: 4, lineStyle: { color: "#000", width: 2.5 } },
  });

  GRIDS.forEach((_g, i) => {
    if (i === 1) {
      yAxis.push({
        type: "value", gridIndex: 1, min: -2, max: 2, interval: 0.5,
        axisLine: { show: false }, splitLine: { show: false },
        axisTick: { show: true, inside: true, length: 12, customValues: AD_TICKS, lineStyle: { color: "#111", width: 2 } },
        axisLabel: { show: true, inside: true, margin: 17, customValues: AD_LABELS, color: "#222", fontSize: 16, fontFamily: SANS },
      });
    } else if (i === 3) {
      yAxis.push({
        type: "value", gridIndex: 3, min: 0, max: 4, interval: 0.5,
        axisLine: { show: false },
        splitLine: { show: true, lineStyle: { color: "#333", width: 1.5, type: [1.5, 14.5] } },
        axisTick: { show: true, inside: true, length: 12, customValues: SS_TICKS, lineStyle: { color: "#111", width: 2 } },
        axisLabel: { show: true, inside: true, margin: 17, customValues: SS_LABELS, color: "#222", fontSize: 16, fontFamily: SANS },
      });
    } else {
      yAxis.push({ type: "value", gridIndex: i, min: 0, max: 1, show: false });
    }
  });

  const adPoints = [
    ...toPoints(AD_UPPER_LEFT), ...toPoints(AD_UPPER_LEFT_2), ...toPoints(AD_LOWER_LEFT), ...toPoints(AD_LOWER_LEFT_2), ...toPoints(AD_MID_LEFT),
    ...toPoints(AD_UPPER_RIGHT), ...toPoints(AD_UPPER_RIGHT_2), ...toPoints(AD_LOWER_RIGHT), ...toPoints(AD_LOWER_RIGHT_2), ...toPoints(AD_MID_RIGHT),
  ];
  const dgvFill = (k: number) => (k === 1 ? LOSS_RED : GAIN_BLUE);
  const omimFill = (k: number) => (k === 1 ? OMIM_GREEN : OMIM_GREY);

  const series: any[] = [
    {
      type: "line", xAxisIndex: 0, yAxisIndex: 0, symbol: "none", silent: true,
      data: [[LOH_SEGMENTS[0][1], 0.5], [LOH_SEGMENTS[1][0], 0.5]],
      lineStyle: { color: MAGENTA, width: 1.5 },
    },
    { type: "custom", xAxisIndex: 0, yAxisIndex: 0, data: LOH_SEGMENTS, renderItem: segRenderer, silent: true },
    {
      type: "scatter", xAxisIndex: 1, yAxisIndex: 1, data: adPoints, symbol: "rect", symbolSize: [2.2, 2.2],
      itemStyle: { color: MAGENTA }, silent: true,
    },
    { type: "custom", xAxisIndex: 2, yAxisIndex: 2, data: LOH_CALLS, renderItem: lohRenderer, silent: true },
    {
      type: "line", xAxisIndex: 3, yAxisIndex: 3, data: SMOOTH, symbol: "none", step: "middle", silent: true,
      lineStyle: { color: MAGENTA, width: 1.5 },
    },
    { type: "custom", xAxisIndex: 4, yAxisIndex: 4, data: DGV_ROW1, renderItem: spanRenderer(dgvFill, 2.2), silent: true },
    { type: "custom", xAxisIndex: 5, yAxisIndex: 5, data: DGV_ROW2, renderItem: spanRenderer(dgvFill, 2.2), silent: true },
    { type: "custom", xAxisIndex: 5, yAxisIndex: 5, data: DGV_NAMED, renderItem: namedRenderer, silent: true },
    { type: "custom", xAxisIndex: 6, yAxisIndex: 6, data: OMIM_ROW1, renderItem: lineRenderer(omimFill, 1.6), silent: true },
    { type: "custom", xAxisIndex: 7, yAxisIndex: 7, data: OMIM_ROW2_GENES, renderItem: spanRenderer(() => OMIM_GREY, 1.6), silent: true },
    { type: "custom", xAxisIndex: 7, yAxisIndex: 7, data: OMIM_ROW2_PHENO, renderItem: spanRenderer(() => OMIM_GREEN, 2), silent: true },
    { type: "custom", xAxisIndex: 8, yAxisIndex: 9, data: BANDS, renderItem: ideoRenderer, silent: true },
  ];

  return {
    animation: false,
    backgroundColor: "#ffffff",
    grid: GRIDS.map((g) => ({ left: 31, right: 29, ...g })),
    xAxis,
    yAxis,
    series,
    graphic: { elements: staticGraphics() },
  };
}

export default function App() {
  const ref = useRef<HTMLDivElement>(null);
  useEffect(() => {
    const el = ref.current;
    if (!el) return;
    const chart = echarts.init(el, undefined, { renderer: "svg", width: 1418, height: 807 });
    chart.setOption(buildOption());
    const cx = chart.convertToPixel({ xAxisIndex: 0 }, CURSOR_MB) as unknown as number;
    chart.setOption({
      graphic: {
        elements: [
          ...staticGraphics(),
          { id: "cursor", type: "line", z: 100, shape: { x1: cx, y1: 0, x2: cx, y2: 772 }, style: { stroke: "rgba(150,150,240,0.8)", lineWidth: 2.5, lineDash: [8, 4] } },
        ],
      },
    });
    return () => chart.dispose();
  }, []);
  return <div ref={ref} style={{ position: "fixed", left: 0, top: 0, width: 1418, height: 807, background: "#fff" }} />;
}
